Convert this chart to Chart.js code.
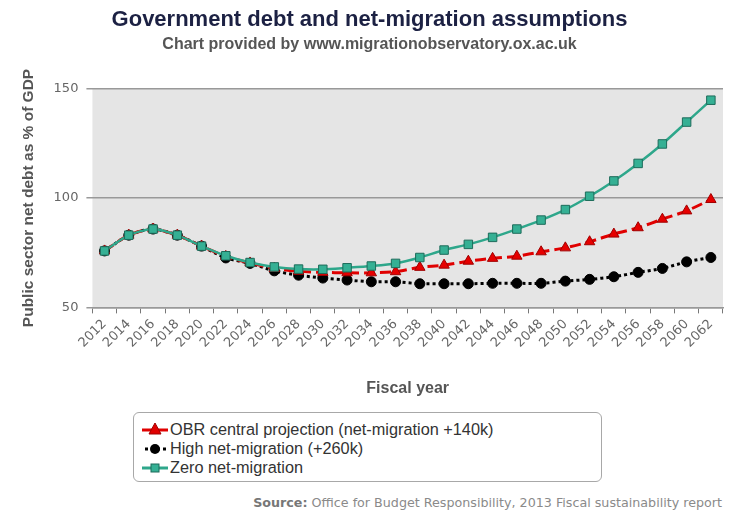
<!DOCTYPE html>
<html>
<head>
<meta charset="utf-8">
<script src="https://cdn.jsdelivr.net/npm/chart.js@4"></script>
<style>
  html, body { margin: 0; padding: 0; background: #fff; }
  body { width: 736px; height: 523px; position: relative; overflow: hidden; font-family: "Liberation Sans", Arial, sans-serif; }
  #wrap { position: absolute; left: 0; top: 0; width: 736px; height: 402px; }
  #legend { position: absolute; left: 133px; top: 412px; width: 469px; height: 70px; border: 1px solid #a8a8a8; border-radius: 6px; box-sizing: border-box; padding-top: 7px; }
  .row { height: 19px; line-height: 19px; font-size: 16.3px; color: #333; white-space: nowrap; position: relative; }
  .row svg { position: absolute; left: 7px; top: 1px; }
  .row span { position: absolute; left: 36px; top: 0; }
  #source { position: absolute; right: 14px; top: 495px; font-family: "DejaVu Sans", sans-serif; font-size: 12.7px; color: #8a8a8a; white-space: nowrap; }
  #source b { color: #777; }
</style>
</head>
<body>
<div id="wrap"><canvas id="c"></canvas></div>
<div id="legend">
  <div class="row"><svg width="28" height="17"><line x1="1" y1="9" x2="27" y2="9" stroke="#e00000" stroke-width="3"/><polygon points="14,2 20,13 8,13" fill="#e00000" stroke="#a00000" stroke-width="1"/></svg><span>OBR central projection (net-migration +140k)</span></div>
  <div class="row"><svg width="28" height="17"><line x1="4" y1="9" x2="27" y2="9" stroke="#000" stroke-width="3" stroke-dasharray="3,3"/><circle cx="14" cy="9" r="5" fill="#000"/></svg><span>High net-migration (+260k)</span></div>
  <div class="row"><svg width="28" height="17"><line x1="1" y1="9" x2="27" y2="9" stroke="#2ea78b" stroke-width="3"/><rect x="10" y="5" width="8" height="8" fill="#35b094" stroke="#1d6b5a" stroke-width="1"/></svg><span>Zero net-migration</span></div>
</div>
<div id="source"><b>Source:</b> Office for Budget Responsibility, 2013 Fiscal sustainability report</div>
<script>
const years = ['2012','2014','2016','2018','2020','2022','2024','2026','2028','2030','2032','2034','2036','2038','2040','2042','2044','2046','2048','2050','2052','2054','2056','2058','2060','2062'];
const obrCentral = [75.8, 83.0, 85.8, 83.0, 78.0, 73.3, 70.3, 67.8, 66.5, 66.0, 65.8, 65.8, 66.3, 68.3, 69.3, 71.1, 72.4, 73.4, 75.4, 77.2, 80.0, 83.5, 86.4, 90.3, 94.1, 99.3];
const highMigration = [75.8, 83.0, 85.8, 83.0, 78.0, 72.6, 70.1, 66.7, 64.7, 63.4, 62.5, 61.7, 61.7, 60.8, 60.8, 60.8, 61.0, 61.0, 61.0, 62.0, 62.8, 64.0, 66.0, 67.8, 70.8, 72.8];
const zeroMigration = [75.8, 83.0, 85.8, 83.0, 78.0, 73.6, 70.5, 68.5, 67.5, 67.4, 68.1, 68.9, 70.1, 72.8, 76.2, 78.8, 82.0, 85.8, 89.9, 94.7, 100.8, 107.8, 115.8, 124.7, 134.7, 144.7];
const yTicks = [50, 100, 150];

const plotBg = {
  id: 'plotBg',
  beforeDraw(chart) {
    const {ctx, chartArea: a} = chart;
    ctx.save();
    ctx.fillStyle = '#e5e5e5';
    ctx.fillRect(a.left, a.top, a.right - a.left, a.bottom - a.top);
    ctx.restore();
  }
};

new Chart(document.getElementById('c'), {
  type: 'line',
  data: {
    labels: years,
    datasets: [
      {
        label: 'OBR central projection (net-migration +140k)',
        data: obrCentral,
        order: 1,
        borderColor: '#e00000',
        borderWidth: 3,
        borderDash: [11, 5],
        pointStyle: 'triangle',
        pointRadius: 6,
        pointBackgroundColor: '#e60000',
        pointBorderColor: '#a00000',
        pointBorderWidth: 1,
        tension: 0.25
      },
      {
        label: 'High net-migration (+260k)',
        data: highMigration,
        order: 2,
        borderColor: '#000000',
        borderWidth: 3,
        borderDash: [3, 3],
        pointStyle: 'circle',
        pointRadius: 5,
        pointBackgroundColor: '#000000',
        pointBorderColor: '#000000',
        pointBorderWidth: 1,
        tension: 0.25
      },
      {
        label: 'Zero net-migration',
        data: zeroMigration,
        order: 0,
        borderColor: '#2ea78b',
        borderWidth: 2.5,
        pointStyle: 'rect',
        pointRadius: 6,
        pointBackgroundColor: '#35b094',
        pointBorderColor: '#1d6b5a',
        pointBorderWidth: 1,
        tension: 0.25
      }
    ]
  },
  options: {
    responsive: true,
    maintainAspectRatio: false,
    animation: false,
    layout: { padding: { left: 16, right: 13, top: 0, bottom: 0 } },
    plugins: {
      legend: { display: false },
      tooltip: { enabled: false },
      title: {
        display: true,
        text: 'Government debt and net-migration assumptions',
        color: '#1c2143',
        font: { family: '"Liberation Sans", Arial, sans-serif', size: 22, weight: 'bold' },
        padding: { top: 7, bottom: 0 }
      },
      subtitle: {
        display: true,
        text: 'Chart provided by www.migrationobservatory.ox.ac.uk',
        color: '#555',
        font: { family: '"Liberation Sans", Arial, sans-serif', size: 16, weight: 'bold' },
        padding: { top: 2, bottom: 34 }
      }
    },
    scales: {
      x: {
        offset: true,
        grid: { offset: true, drawOnChartArea: false, drawTicks: true, tickLength: 6, color: '#777' },
        border: { display: true, color: '#999', width: 1.5 },
        ticks: {
          autoSkip: false, minRotation: 45, maxRotation: 45, padding: 3,
          color: '#666',
          font: { family: '"DejaVu Sans", sans-serif', size: 13 }
        },
        title: {
          display: true, text: 'Fiscal year', color: '#555',
          font: { family: '"Liberation Sans", Arial, sans-serif', size: 16, weight: 'bold' },
          padding: { top: 25, bottom: 4 }
        }
      },
      y: {
        min: 50, max: 150,
        afterBuildTicks(scale) { scale.ticks = yTicks.map(v => ({ value: v })); },
        grid: { color: '#999', lineWidth: 1.5, tickLength: 6 },
        border: { display: false },
        ticks: {
          padding: 8, color: '#666',
          font: { family: '"DejaVu Sans", sans-serif', size: 13 }
        },
        title: {
          display: true, text: 'Public sector net debt as % of GDP', color: '#555',
          font: { family: '"Liberation Sans", Arial, sans-serif', size: 15.5, weight: 'bold' },
          padding: { top: 3, bottom: 8 }
        }
      }
    }
  },
  plugins: [plotBg]
});
</script>
</body>
</html>
